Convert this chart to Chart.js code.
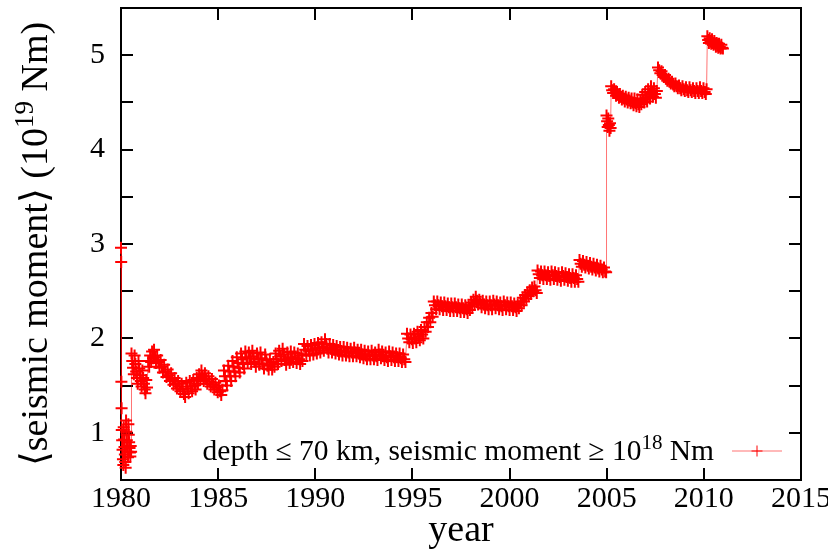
<!DOCTYPE html>
<html>
<head>
<meta charset="utf-8">
<script src="https://cdn.jsdelivr.net/npm/chart.js@4.4.1/dist/chart.umd.min.js"></script>
<style>
  html, body { margin: 0; padding: 0; background: #fff; }
  #wrap { width: 828px; height: 555px; }
</style>
</head>
<body>
<div id="wrap"><canvas id="chart" width="828" height="555"></canvas></div>
<script>
// running mean of the seismic moment, [year, moment in 1e19 Nm]
const start1980 = [
  [1980.00, 2.96], [1980.01, 2.81], [1980.02, 1.54], [1980.03, 1.26], [1980.04, 1.03],
  [1980.06, 0.92], [1980.08, 0.82], [1980.10, 0.72], [1980.12, 0.66], [1980.14, 1.06],
  [1980.16, 0.93], [1980.18, 0.85], [1980.20, 0.77], [1980.22, 0.69], [1980.24, 0.63],
  [1980.26, 1.13], [1980.28, 1.01], [1980.30, 0.92], [1980.32, 0.86], [1980.34, 0.80],
  [1980.36, 0.74], [1980.38, 1.09], [1980.40, 0.98], [1980.42, 0.90], [1980.44, 0.84],
  [1980.46, 0.79], [1980.48, 0.75], [1980.50, 0.86], [1980.52, 0.80]
];

const early80s = [
  [1980.54, 1.84], [1980.58, 1.76], [1980.62, 1.69], [1980.66, 1.62], [1980.70, 1.82],
  [1980.74, 1.73], [1980.78, 1.65], [1980.82, 1.58], [1980.86, 1.52], [1980.90, 1.76],
  [1980.94, 1.68], [1980.98, 1.61], [1981.02, 1.55], [1981.06, 1.49], [1981.10, 1.66],
  [1981.14, 1.58], [1981.18, 1.52], [1981.22, 1.46], [1981.26, 1.42], [1981.30, 1.56],
  [1981.34, 1.48], [1981.40, 1.76], [1981.45, 1.70], [1981.50, 1.82], [1981.55, 1.75],
  [1981.60, 1.86], [1981.65, 1.79], [1981.70, 1.88], [1981.75, 1.80], [1981.80, 1.74],
  [1981.86, 1.82], [1981.92, 1.75], [1981.98, 1.69], [1982.04, 1.77], [1982.10, 1.70],
  [1982.16, 1.64], [1982.22, 1.72], [1982.28, 1.65], [1982.34, 1.59], [1982.40, 1.67],
  [1982.46, 1.61], [1982.52, 1.55], [1982.58, 1.63], [1982.64, 1.57], [1982.70, 1.51],
  [1982.76, 1.58], [1982.82, 1.52], [1982.88, 1.47], [1982.94, 1.55], [1983.00, 1.49],
  [1983.06, 1.44], [1983.12, 1.52], [1983.18, 1.46], [1983.24, 1.41], [1983.30, 1.38],
  [1983.36, 1.53], [1983.42, 1.47], [1983.48, 1.42], [1983.54, 1.55], [1983.60, 1.49],
  [1983.66, 1.44], [1983.72, 1.56], [1983.78, 1.50], [1983.84, 1.46], [1983.90, 1.58],
  [1983.96, 1.52], [1984.02, 1.62], [1984.08, 1.56], [1984.14, 1.66], [1984.20, 1.60],
  [1984.26, 1.55], [1984.32, 1.63], [1984.38, 1.57], [1984.44, 1.52], [1984.50, 1.60],
  [1984.56, 1.54], [1984.62, 1.49], [1984.68, 1.57], [1984.74, 1.51], [1984.80, 1.46],
  [1984.86, 1.53], [1984.92, 1.48], [1984.98, 1.43], [1985.04, 1.50], [1985.10, 1.44],
  [1985.16, 1.40], [1985.22, 1.45]
];

const late80s = [
  [1985.30, 1.66], [1985.35, 1.60], [1985.40, 1.55], [1985.45, 1.50], [1985.52, 1.71],
  [1985.57, 1.65], [1985.62, 1.60], [1985.67, 1.55], [1985.74, 1.76], [1985.79, 1.70],
  [1985.84, 1.65], [1985.89, 1.60], [1985.96, 1.80], [1986.01, 1.74], [1986.06, 1.69],
  [1986.11, 1.64], [1986.18, 1.84], [1986.23, 1.78], [1986.28, 1.73], [1986.34, 1.68],
  [1986.40, 1.86], [1986.46, 1.80], [1986.52, 1.74], [1986.58, 1.85], [1986.64, 1.79],
  [1986.70, 1.73], [1986.76, 1.87], [1986.82, 1.81], [1986.88, 1.75], [1986.94, 1.70],
  [1987.00, 1.84], [1987.06, 1.78], [1987.12, 1.72], [1987.18, 1.85], [1987.24, 1.79],
  [1987.30, 1.73], [1987.36, 1.68], [1987.42, 1.83], [1987.48, 1.77], [1987.54, 1.71],
  [1987.60, 1.67], [1987.66, 1.78], [1987.72, 1.72], [1987.78, 1.67], [1987.84, 1.75],
  [1987.90, 1.70], [1987.96, 1.84], [1988.02, 1.78], [1988.08, 1.73], [1988.14, 1.87],
  [1988.20, 1.81], [1988.26, 1.76], [1988.32, 1.89], [1988.38, 1.83], [1988.44, 1.77],
  [1988.50, 1.72], [1988.56, 1.85], [1988.62, 1.79], [1988.68, 1.74], [1988.74, 1.86],
  [1988.80, 1.80], [1988.86, 1.75], [1988.92, 1.85], [1988.98, 1.79], [1989.04, 1.74],
  [1989.10, 1.84], [1989.16, 1.78], [1989.22, 1.73], [1989.28, 1.82], [1989.34, 1.76]
];

const early90s = [
  [1989.42, 1.94], [1989.48, 1.88], [1989.54, 1.83], [1989.60, 1.92], [1989.66, 1.87],
  [1989.72, 1.82], [1989.78, 1.93], [1989.84, 1.88], [1989.90, 1.83], [1989.96, 1.94],
  [1990.02, 1.89], [1990.08, 1.84], [1990.14, 1.95], [1990.20, 1.90], [1990.26, 1.85],
  [1990.32, 1.96], [1990.38, 1.91], [1990.44, 1.87], [1990.50, 1.99], [1990.56, 1.94],
  [1990.62, 1.89], [1990.68, 1.85], [1990.74, 1.94], [1990.80, 1.89], [1990.86, 1.85],
  [1990.92, 1.93], [1990.98, 1.88], [1991.04, 1.84], [1991.10, 1.92], [1991.16, 1.87],
  [1991.22, 1.83], [1991.28, 1.91], [1991.34, 1.86], [1991.40, 1.82], [1991.46, 1.91],
  [1991.52, 1.86], [1991.58, 1.82], [1991.64, 1.90], [1991.70, 1.85], [1991.76, 1.81],
  [1991.82, 1.89], [1991.88, 1.85], [1991.94, 1.81], [1992.00, 1.90], [1992.06, 1.85],
  [1992.12, 1.81], [1992.18, 1.88], [1992.24, 1.84], [1992.30, 1.80], [1992.36, 1.88],
  [1992.42, 1.83], [1992.48, 1.79], [1992.54, 1.87], [1992.60, 1.82], [1992.66, 1.78],
  [1992.72, 1.86], [1992.78, 1.82], [1992.84, 1.78], [1992.90, 1.87], [1992.96, 1.82],
  [1993.02, 1.78], [1993.08, 1.85], [1993.14, 1.81], [1993.20, 1.77], [1993.26, 1.88],
  [1993.32, 1.83], [1993.38, 1.79], [1993.44, 1.86], [1993.50, 1.81], [1993.56, 1.77],
  [1993.62, 1.85], [1993.68, 1.80], [1993.74, 1.76], [1993.80, 1.86], [1993.86, 1.81],
  [1993.92, 1.77], [1993.98, 1.85], [1994.04, 1.80], [1994.10, 1.76], [1994.16, 1.84],
  [1994.22, 1.80], [1994.28, 1.76], [1994.34, 1.84], [1994.40, 1.79], [1994.46, 1.75],
  [1994.52, 1.83], [1994.58, 1.78], [1994.64, 1.75]
];

const late90s = [
  [1994.72, 2.05], [1994.78, 2.00], [1994.84, 1.96], [1994.90, 2.04], [1994.96, 1.99],
  [1995.02, 1.95], [1995.08, 2.05], [1995.14, 2.00], [1995.20, 1.96], [1995.26, 2.07],
  [1995.32, 2.02], [1995.38, 1.98], [1995.44, 2.09], [1995.50, 2.04], [1995.56, 2.00],
  [1995.62, 2.12], [1995.68, 2.07], [1995.74, 2.17], [1995.80, 2.12], [1995.86, 2.22],
  [1995.92, 2.17], [1995.98, 2.27], [1996.04, 2.23], [1996.10, 2.39], [1996.16, 2.35],
  [1996.22, 2.31], [1996.28, 2.39], [1996.34, 2.35], [1996.40, 2.31], [1996.46, 2.38],
  [1996.52, 2.34], [1996.58, 2.30], [1996.64, 2.38], [1996.70, 2.34], [1996.76, 2.30],
  [1996.82, 2.37], [1996.88, 2.33], [1996.94, 2.29], [1997.00, 2.37], [1997.06, 2.33],
  [1997.12, 2.29], [1997.18, 2.37], [1997.24, 2.33], [1997.30, 2.29], [1997.36, 2.36],
  [1997.42, 2.32], [1997.48, 2.28], [1997.54, 2.36], [1997.60, 2.32], [1997.66, 2.28],
  [1997.72, 2.35], [1997.78, 2.31], [1997.84, 2.27], [1997.90, 2.34], [1997.96, 2.30],
  [1998.02, 2.38], [1998.08, 2.34], [1998.14, 2.41], [1998.20, 2.37], [1998.26, 2.44],
  [1998.32, 2.40], [1998.38, 2.36], [1998.44, 2.41], [1998.50, 2.37], [1998.56, 2.33],
  [1998.62, 2.40], [1998.68, 2.36], [1998.74, 2.32], [1998.80, 2.39], [1998.86, 2.35],
  [1998.92, 2.31], [1998.98, 2.39], [1999.04, 2.35], [1999.10, 2.31], [1999.16, 2.40],
  [1999.22, 2.36], [1999.28, 2.32], [1999.34, 2.39], [1999.40, 2.35], [1999.46, 2.31],
  [1999.52, 2.38], [1999.58, 2.34], [1999.64, 2.30], [1999.70, 2.39], [1999.76, 2.35],
  [1999.82, 2.31], [1999.88, 2.38], [1999.94, 2.34], [2000.00, 2.30], [2000.06, 2.38],
  [2000.12, 2.34], [2000.18, 2.30], [2000.24, 2.37], [2000.30, 2.33], [2000.36, 2.29],
  [2000.42, 2.36], [2000.48, 2.32]
];

const early2000s = [
  [2000.56, 2.39], [2000.62, 2.35], [2000.68, 2.43], [2000.74, 2.39], [2000.80, 2.46],
  [2000.86, 2.42], [2000.92, 2.49], [2000.98, 2.45], [2001.04, 2.51], [2001.10, 2.47],
  [2001.16, 2.54], [2001.22, 2.50], [2001.28, 2.55], [2001.34, 2.51], [2001.40, 2.48],
  [2001.44, 2.72], [2001.50, 2.68], [2001.56, 2.64], [2001.62, 2.71], [2001.68, 2.67],
  [2001.74, 2.63], [2001.80, 2.71], [2001.86, 2.67], [2001.92, 2.63], [2001.98, 2.70],
  [2002.04, 2.66], [2002.10, 2.62], [2002.16, 2.71], [2002.22, 2.67], [2002.28, 2.63],
  [2002.34, 2.70], [2002.40, 2.66], [2002.46, 2.62], [2002.52, 2.69], [2002.58, 2.65],
  [2002.64, 2.61], [2002.70, 2.70], [2002.76, 2.66], [2002.82, 2.62], [2002.88, 2.69],
  [2002.94, 2.65], [2003.00, 2.61], [2003.06, 2.68], [2003.12, 2.64], [2003.18, 2.60],
  [2003.24, 2.68], [2003.30, 2.64], [2003.36, 2.60], [2003.42, 2.67], [2003.48, 2.63],
  [2003.54, 2.60], [2003.60, 2.83], [2003.66, 2.79], [2003.72, 2.76], [2003.78, 2.82],
  [2003.84, 2.78], [2003.90, 2.75], [2003.96, 2.81], [2004.02, 2.77], [2004.08, 2.74],
  [2004.14, 2.80], [2004.20, 2.76], [2004.26, 2.73], [2004.32, 2.79], [2004.38, 2.75],
  [2004.44, 2.72], [2004.50, 2.78], [2004.56, 2.74], [2004.62, 2.71], [2004.68, 2.77],
  [2004.74, 2.73], [2004.80, 2.70], [2004.86, 2.75], [2004.92, 2.71], [2004.97, 2.70]
];

const late2000s = [
  [2004.99, 4.36], [2005.02, 4.30], [2005.05, 4.24], [2005.08, 4.33], [2005.11, 4.26],
  [2005.14, 4.20], [2005.17, 4.28], [2005.20, 4.23], [2005.23, 4.67], [2005.28, 4.63],
  [2005.33, 4.60], [2005.38, 4.64], [2005.43, 4.60], [2005.48, 4.57], [2005.53, 4.61],
  [2005.58, 4.58], [2005.63, 4.55], [2005.68, 4.59], [2005.73, 4.56], [2005.78, 4.53],
  [2005.83, 4.57], [2005.88, 4.54], [2005.93, 4.51], [2005.98, 4.56], [2006.03, 4.53],
  [2006.08, 4.50], [2006.13, 4.55], [2006.18, 4.52], [2006.23, 4.49], [2006.28, 4.54],
  [2006.33, 4.50], [2006.38, 4.47], [2006.43, 4.54], [2006.48, 4.49], [2006.53, 4.46],
  [2006.58, 4.53], [2006.63, 4.48], [2006.68, 4.45], [2006.73, 4.52], [2006.78, 4.48],
  [2006.83, 4.58], [2006.88, 4.53], [2006.93, 4.50], [2006.98, 4.61], [2007.03, 4.55],
  [2007.08, 4.51], [2007.13, 4.64], [2007.18, 4.58], [2007.23, 4.54], [2007.28, 4.67],
  [2007.33, 4.60], [2007.38, 4.56], [2007.43, 4.65], [2007.48, 4.59], [2007.53, 4.55],
  [2007.58, 4.62], [2007.64, 4.87], [2007.70, 4.84], [2007.76, 4.81], [2007.82, 4.83],
  [2007.88, 4.79], [2007.94, 4.77], [2008.00, 4.79], [2008.06, 4.75], [2008.12, 4.73],
  [2008.18, 4.75], [2008.24, 4.72], [2008.30, 4.70], [2008.36, 4.72], [2008.42, 4.69],
  [2008.48, 4.67], [2008.54, 4.70], [2008.60, 4.67], [2008.66, 4.65], [2008.72, 4.68],
  [2008.78, 4.65], [2008.84, 4.63], [2008.90, 4.67], [2008.96, 4.64], [2009.02, 4.62],
  [2009.08, 4.66], [2009.14, 4.63], [2009.20, 4.61], [2009.26, 4.66], [2009.32, 4.63],
  [2009.38, 4.61], [2009.44, 4.65], [2009.50, 4.62], [2009.56, 4.60], [2009.62, 4.65],
  [2009.68, 4.62], [2009.74, 4.60], [2009.80, 4.66], [2009.86, 4.62], [2009.92, 4.60],
  [2009.98, 4.65], [2010.04, 4.61], [2010.10, 4.59], [2010.14, 4.64]
];

const since2010 = [
  [2010.18, 5.20], [2010.22, 5.16], [2010.26, 5.13], [2010.30, 5.18], [2010.34, 5.15],
  [2010.38, 5.12], [2010.42, 5.17], [2010.46, 5.13], [2010.50, 5.11], [2010.54, 5.15],
  [2010.58, 5.12], [2010.62, 5.09], [2010.66, 5.13], [2010.70, 5.10], [2010.74, 5.08],
  [2010.78, 5.12], [2010.82, 5.09], [2010.86, 5.07], [2010.90, 5.11], [2010.94, 5.08],
  [2010.98, 5.07]
];

const xTicks = [1980, 1985, 1990, 1995, 2000, 2005, 2010, 2015];
const yTicks = [0.5, 1, 1.5, 2, 2.5, 3, 3.5, 4, 4.5, 5, 5.5];
const yLabels = [1, 2, 3, 4, 5];

const seriesLabel = ['depth \u2264 70 km, seismic moment \u2265 10', '18', ' Nm'];
const yTitle = ['\u27E8seismic moment\u27E9 (10', '19', ' Nm)'];
const xTitle = 'year';

const RED = '#ff0000';
const SERIF = '"Liberation Serif", "Times New Roman", serif';

const points = [start1980, early80s, late80s, early90s, late90s, early2000s, late2000s, since2010]
  .flat()
  .map(([x, y]) => ({ x, y }));

// draws text runs left to right, the middle run raised as an exponent
function drawRuns(ctx, runs, x, y, size, align) {
  const supSize = Math.round(size * 0.7);
  const widths = runs.map((t, i) => {
    ctx.font = `${i === 1 ? supSize : size}px ${SERIF}`;
    return ctx.measureText(t).width;
  });
  const total = widths.reduce((a, b) => a + b, 0);
  let cx = align === 'center' ? x - total / 2 : align === 'right' ? x - total : x;
  runs.forEach((t, i) => {
    ctx.font = `${i === 1 ? supSize : size}px ${SERIF}`;
    ctx.fillText(t, cx, i === 1 ? y - size * 0.38 : y);
    cx += widths[i];
  });
}

// closed frame with inward tics on all four sides, under the data
const framePlugin = {
  id: 'frame',
  beforeDatasetsDraw(chart) {
    const { ctx, chartArea: a, scales } = chart;
    const len = 12;
    ctx.save();
    ctx.strokeStyle = '#000';
    ctx.lineWidth = 2;
    ctx.strokeRect(a.left, a.top, a.right - a.left, a.bottom - a.top);
    ctx.beginPath();
    xTicks.forEach(v => {
      const px = Math.round(scales.x.getPixelForValue(v));
      ctx.moveTo(px, a.bottom); ctx.lineTo(px, a.bottom - len);
      ctx.moveTo(px, a.top); ctx.lineTo(px, a.top + len);
    });
    yTicks.forEach(v => {
      const py = Math.round(scales.y.getPixelForValue(v));
      ctx.moveTo(a.left, py); ctx.lineTo(a.left + len, py);
      ctx.moveTo(a.right, py); ctx.lineTo(a.right - len, py);
    });
    ctx.stroke();
    ctx.restore();
  }
};

const titlesPlugin = {
  id: 'titles',
  afterDraw(chart) {
    const { ctx, chartArea: a } = chart;
    ctx.save();
    ctx.fillStyle = '#000';
    ctx.textBaseline = 'alphabetic';
    ctx.textAlign = 'left';
    ctx.font = `38px ${SERIF}`;
    const w = ctx.measureText(xTitle).width;
    ctx.fillText(xTitle, (a.left + a.right) / 2 - w / 2, 541);

    ctx.translate(47, (a.top + a.bottom) / 2);
    ctx.rotate(-Math.PI / 2);
    drawRuns(ctx, yTitle, 0, 0, 38, 'center');
    ctx.restore();
  }
};

// key in the lower right corner: text, then line sample with a cross
const keyPlugin = {
  id: 'key',
  afterDraw(chart) {
    const { ctx } = chart;
    const ds = chart.data.datasets[0];
    const lineY = 451;
    const r = 5.5;
    ctx.save();
    ctx.fillStyle = '#000';
    ctx.textBaseline = 'alphabetic';
    ctx.textAlign = 'left';
    drawRuns(ctx, seriesLabel, 714, 460, 29.5, 'right');
    ctx.strokeStyle = ds.borderColor;
    ctx.lineWidth = 1;
    ctx.beginPath();
    ctx.moveTo(732, lineY); ctx.lineTo(782, lineY);
    ctx.stroke();
    ctx.strokeStyle = ds.pointBorderColor;
    ctx.beginPath();
    ctx.moveTo(757 - r, lineY); ctx.lineTo(757 + r, lineY);
    ctx.moveTo(757, lineY - r); ctx.lineTo(757, lineY + r);
    ctx.stroke();
    ctx.restore();
  }
};

const tickFont = { family: SERIF, size: 30 };

const config = {
  type: 'line',
  plugins: [framePlugin, titlesPlugin, keyPlugin],
  data: {
    datasets: [{
      label: seriesLabel.join(''),
      data: points,
      borderColor: 'rgba(255,0,0,0.55)',
      borderWidth: 1,
      pointStyle: 'cross',
      pointRadius: 6,
      pointBorderColor: RED,
      pointBorderWidth: 2,
      pointBackgroundColor: RED,
      tension: 0,
      clip: false,
    }]
  },
  options: {
    responsive: false,
    animation: false,
    devicePixelRatio: 1,
    events: [],
    layout: { padding: { left: 0, right: 27, top: 2, bottom: 0 } },
    scales: {
      x: {
        type: 'linear',
        min: 1980,
        max: 2015,
        grid: { display: false, drawTicks: false },
        border: { display: false },
        ticks: {
          stepSize: 5,
          padding: 1,
          color: '#000',
          font: tickFont,
          maxRotation: 0,
          autoSkip: false,
          callback: v => String(v),
        },
        afterFit(s) { s.height = 75; s.paddingLeft = 0; s.paddingRight = 0; },
      },
      y: {
        type: 'linear',
        min: 0.5,
        max: 5.5,
        grid: { display: false, drawTicks: false },
        border: { display: false },
        ticks: {
          stepSize: 0.5,
          padding: 16,
          color: '#000',
          font: tickFont,
          callback: v => (yLabels.includes(v) ? String(v) : ''),
        },
        afterFit(s) { s.width = 121; s.paddingTop = 0; s.paddingBottom = 0; },
      },
    },
    plugins: {
      legend: { display: false },
      tooltip: { enabled: false },
    },
  }
};

new Chart(document.getElementById('chart'), config);
</script>
</body>
</html>
